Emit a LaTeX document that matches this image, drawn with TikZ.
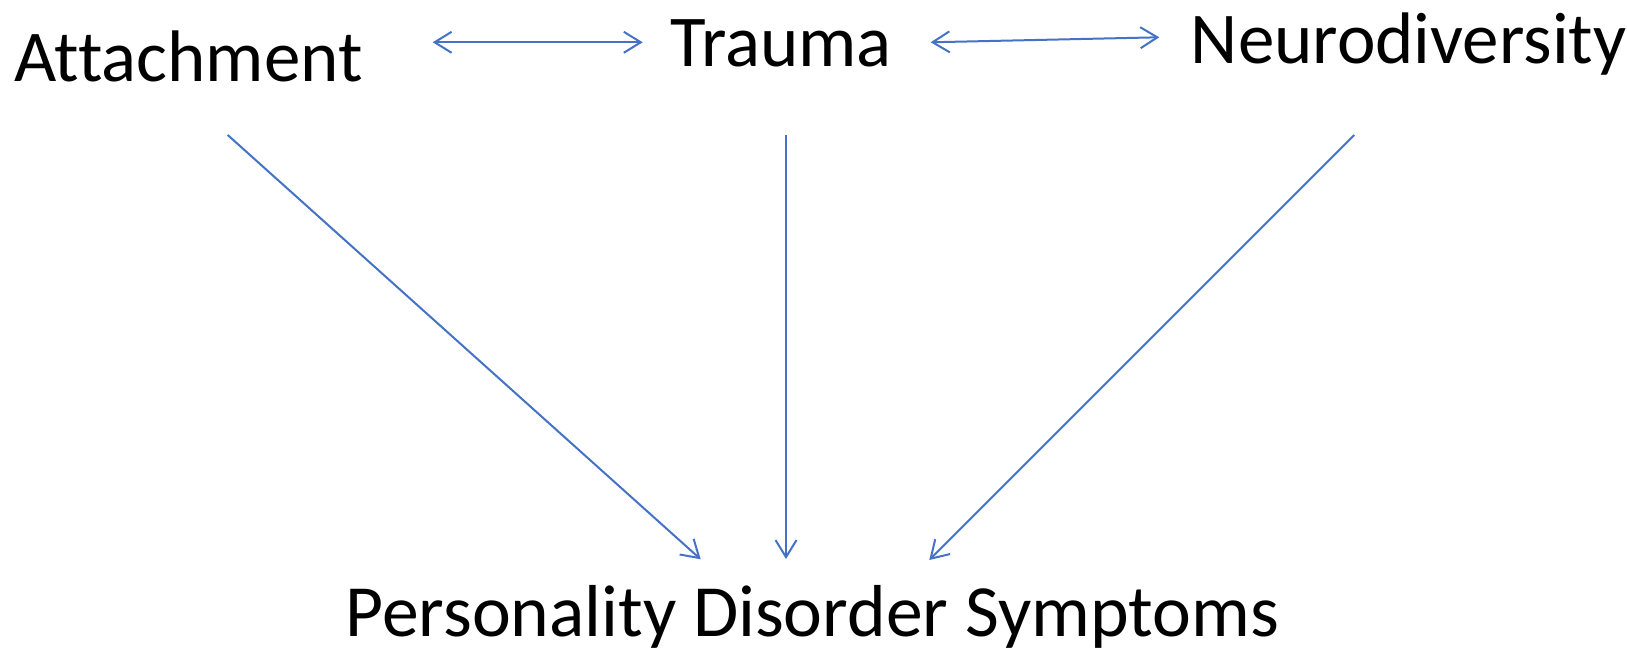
\documentclass[tikz,border=0pt]{standalone}
\usepackage{fontspec}
\setmainfont{Carlito}[Ligatures=NoCommon]
\usepackage{xcolor}
\usepackage{tikz}
\usetikzlibrary{arrows.meta}
\definecolor{linkblue}{HTML}{4472C4}

\begin{document}
\begin{tikzpicture}[x=1pt, y=1pt,
    every node/.append style={inner sep=0pt, anchor=base west},
    word/.style={font=\fontsize{73}{80}\selectfont},
    link/.style={draw=linkblue, line width=2pt, -{Straight Barb[length=17pt,width=21pt,line width=2pt]}},
    both/.style={link, {Straight Barb[length=17pt,width=21pt,line width=2pt]}-{Straight Barb[length=17pt,width=21pt,line width=2pt]}}]
        \useasboundingbox (0,0) rectangle (1627,653);
        \node[word] (att) at (14,571.3) {Attachment};
        \node[word] (tra) at (670,586.3) {Trauma};
        \node[word] (neu) at (1190.7,589.7) {Neurodiversity};
        \node[word, font=\fontsize{73.6}{80}\selectfont] (pds) at (345.5,16.3) {Personality Disorder Symptoms};
    
        \draw[both] ([shift={(418.7,39.4)}]att.base west) -- ([shift={(-27.3,24.4)}]tra.base west);
        \draw[both] ([shift={(260.7,24.4)}]tra.base west) -- ([shift={(-31.4,26)}]neu.base west);
        \draw[link] ([shift={(213.7,-53.3)}]att.base west) -- ([shift={(355.2,77.4)}]pds.base west);
        \draw[link] ([shift={(116,-68.3)}]tra.base west) -- ([shift={(440.5,77.7)}]pds.base west);
        \draw[link] ([shift={(163.6,-71.7)}]neu.base west) -- ([shift={(583.8,76.7)}]pds.base west);
    \end{tikzpicture}
\end{document}
